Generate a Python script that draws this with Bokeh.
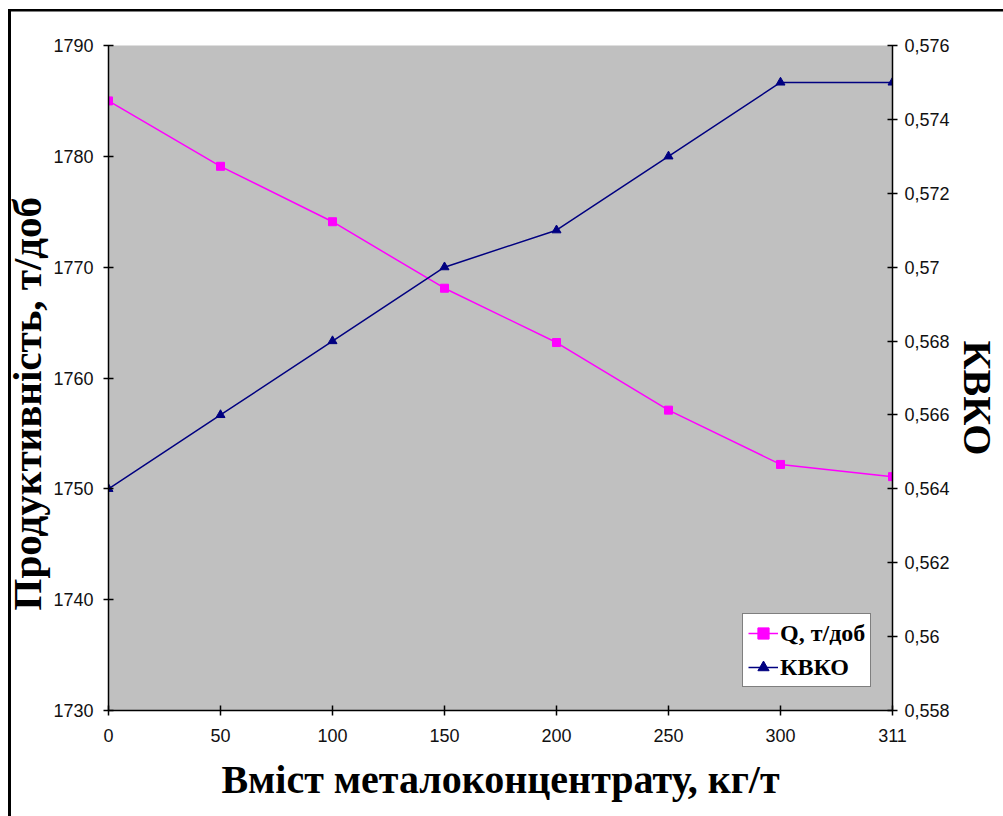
import math
from bokeh.plotting import figure
from bokeh.models import (Range1d, LinearAxis, FixedTicker, Legend, LegendItem, Title)
from bokeh.embed import file_html
from bokeh.resources import INLINE

categories = ["0", "50", "100", "150", "200", "250", "300", "311"]
q_values = [1785, 1779.1, 1774.1, 1768.1, 1763.2, 1757.1, 1752.2, 1751.1]
kvko_values = [0.564, 0.566, 0.568, 0.570, 0.571, 0.573, 0.575, 0.575]
left_ticks = [1730, 1740, 1750, 1760, 1770, 1780, 1790]
right_ticks = [0.558, 0.560, 0.562, 0.564, 0.566, 0.568, 0.570, 0.572, 0.574, 0.576]
right_labels = ["0,558", "0,56", "0,562", "0,564", "0,566", "0,568", "0,57", "0,572", "0,574", "0,576"]
x_title = "Вміст металоконцентрату, кг/т"
y_title = "Продуктивність, т/доб"
y2_title = "КВКО"
series_names = ["Q, т/доб", "КВКО"]

xs = list(range(len(categories)))

frame_bg = ("linear-gradient(#000,#000) 8px 9px / 3px 807px no-repeat, "
            "linear-gradient(#000,#000) 8px 9px / 995px 2.5px no-repeat, #fff")

p = figure(width=1003, height=816, output_backend="svg", toolbar_location=None,
           x_range=Range1d(0, len(categories) - 1), y_range=Range1d(1730, 1790),
           min_border_left=108, min_border_right=111, min_border_top=45, min_border_bottom=106,
           styles={"background": frame_bg})
p.extra_y_ranges = {"k": Range1d(0.558, 0.576)}
p.background_fill_color = "#C0C0C0"
p.border_fill_alpha = 0
p.outline_line_color = None
p.grid.visible = False

serif = "Liberation Serif"
sans = "Liberation Sans"

def style_axis(ax):
    ax.axis_line_color = "black"
    ax.axis_line_width = 1.5
    ax.major_tick_line_color = "black"
    ax.major_tick_line_width = 1.5
    ax.major_tick_in = 5
    ax.major_tick_out = 5
    ax.minor_tick_line_color = None
    ax.major_label_text_font = sans
    ax.major_label_text_font_size = "18px"
    ax.major_label_text_color = "#111111"
    ax.axis_label_text_font = serif
    ax.axis_label_text_font_style = "bold"
    ax.axis_label_text_font_size = "40px"
    ax.axis_label_text_color = "black"

xa = p.xaxis[0]
xa.ticker = FixedTicker(ticks=xs)
xa.major_label_overrides = {i: c for i, c in enumerate(categories)}
xa.axis_label = x_title
style_axis(xa)
xa.major_label_standoff = 13
xa.axis_label_standoff = 12

ya = p.yaxis[0]
ya.ticker = FixedTicker(ticks=left_ticks)
style_axis(ya)
ya.major_label_standoff = 10

ra = LinearAxis(y_range_name="k", ticker=FixedTicker(ticks=right_ticks))
ra.major_label_overrides = {t: l for t, l in zip(right_ticks, right_labels)}
ra.axis_label = "\u00a0\u00a0\u00a0\u00a0" + y2_title
style_axis(ra)
ra.axis_label_orientation = "vertical"
ra.major_label_standoff = 7
ra.axis_label_standoff = 2
p.add_layout(ra, "right")

yt = Title(text=y_title, align="left", offset=100, standoff=2,
           text_font=serif, text_font_style="bold", text_font_size="41px", text_color="black")
p.add_layout(yt, "left")

ql = p.line(xs, q_values, line_color="#FF00FF", line_width=1.5)
qm = p.scatter(xs, q_values, marker="square", size=8, fill_color="#FF00FF", line_color="#FF00FF")
kl = p.line(xs, kvko_values, line_color="#000080", line_width=1.5, y_range_name="k")
km = p.scatter(xs, kvko_values, marker="triangle", size=9, fill_color="#000080", line_color="#000080", y_range_name="k")

legend = Legend(items=[LegendItem(label=series_names[0], renderers=[ql, qm]),
                       LegendItem(label=series_names[1], renderers=[kl, km])],
                location=(634, 23))
legend.label_text_font = serif
legend.label_text_font_style = "bold"
legend.label_text_font_size = "24px"
legend.label_text_color = "black"
legend.border_line_color = "black"
legend.border_line_width = 1.5
legend.background_fill_color = "white"
legend.background_fill_alpha = 1
legend.glyph_width = 30
legend.label_standoff = 2
legend.padding = 5
legend.spacing = 6
legend.margin = 0
legend.label_height = 28
legend.glyph_height = 28
p.add_layout(legend, "center")

open("out.html", "w").write(file_html(p, INLINE))
